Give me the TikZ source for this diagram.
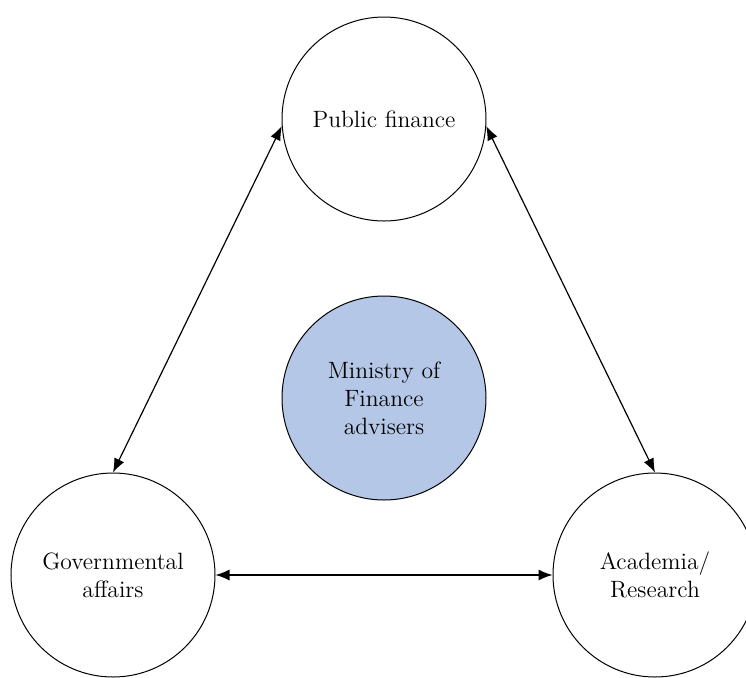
\documentclass[tikz,border=0pt]{standalone}
\usetikzlibrary{arrows.meta}
\definecolor{cpale}{RGB}{180,199,231}
\tikzset{advdiag/.style={x=0.5pt,y=-0.5pt,font=\fontsize{11.8}{14}\selectfont},
  hub/.style={circle,draw,line width=0.5pt,minimum size=102pt,inner sep=0pt,align=center},
  link/.style={{Latex[length=7pt,width=5.5pt]}-{Latex[length=7pt,width=5.5pt]},line width=0.6pt}}

\begin{document}
\begin{tikzpicture}[advdiag]
    \useasboundingbox (0,0) rectangle (746,677);
    \node[hub] (pf) at (384,119) {Public finance};
    \node[hub,fill=cpale] (mof) at (384,398) {Ministry of\\Finance\\advisers};
    \node[hub] (gov) at (113,575) {Governmental\\affairs};
    \node[hub] (acad) at (655,575) {Academia/\\Research};
    \draw[link] (pf.184) -- (gov.north);
    \draw[link] (pf.-4) -- (acad.north);
    \draw[link] (gov.east) -- (acad.west);
  \end{tikzpicture}
\end{document}
